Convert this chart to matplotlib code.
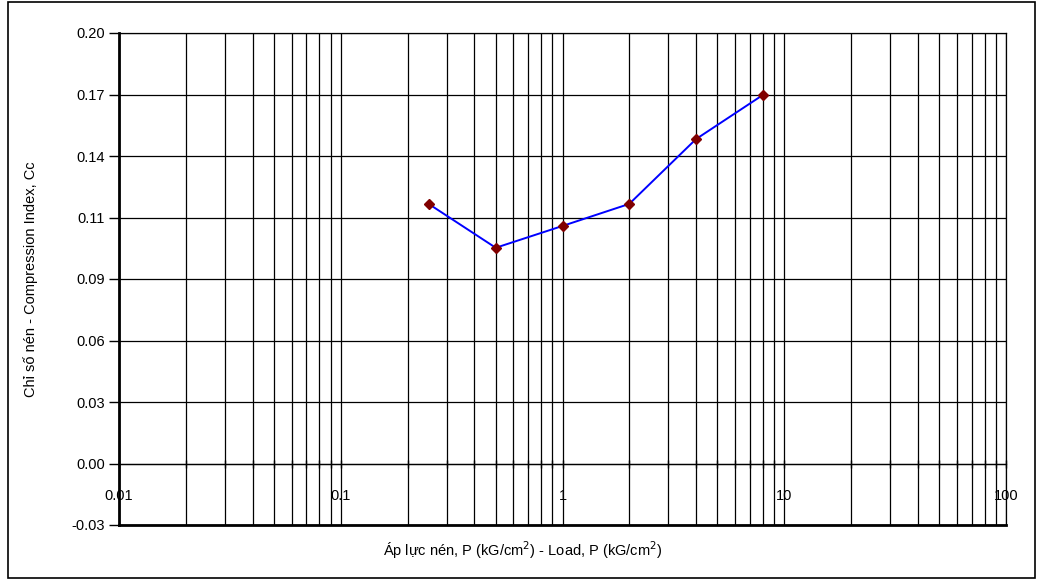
import numpy as np
import matplotlib
matplotlib.use("Agg")
import matplotlib.pyplot as plt
from matplotlib.ticker import FixedLocator, LogLocator, NullFormatter, FixedFormatter
from matplotlib.patches import Rectangle

plt.rcParams['font.family'] = ['Liberation Sans Narrow', 'Liberation Sans', 'DejaVu Sans']

# Data
load_p = [0.25, 0.5, 1, 2, 4, 8]
cc = [0.120, 0.0996, 0.1098, 0.1201, 0.1504, 0.171]

y_tick_labels = ['-0.03', '0.00', '0.03', '0.06', '0.09', '0.11', '0.14', '0.17', '0.20']
x_tick_values = [0.01, 0.1, 1, 10, 100]
x_tick_labels = ['0.01', '0.1', '1', '10', '100']

ylabel = "Chỉ số nén - Compression Index, Cc"
xlabel = "Áp lực nén, P (kG/cm$^2$) - Load, P (kG/cm$^2$)"

fig = plt.figure(figsize=(10.42, 5.81), dpi=100)
ax = fig.add_axes([119/1042, 1 - 525/581, (1006-119)/1042, (525-33)/581])

yticks = np.linspace(-0.03, 0.20, 9)

ax.set_xscale('log')
ax.set_xlim(0.01, 100)
ax.set_ylim(-0.03, 0.20)

# grid
ax.xaxis.set_major_locator(FixedLocator(x_tick_values))
ax.xaxis.set_major_formatter(FixedFormatter(x_tick_labels))
ax.xaxis.set_minor_locator(LogLocator(base=10, subs=np.arange(2, 10)))
ax.xaxis.set_minor_formatter(NullFormatter())
ax.yaxis.set_major_locator(FixedLocator(yticks))
ax.yaxis.set_major_formatter(FixedFormatter(y_tick_labels))

ax.grid(True, which='major', axis='both', color='black', lw=0.9)
ax.grid(True, which='minor', axis='x', color='black', lw=0.9)
ax.set_axisbelow(True)

# x-axis crossing at the "0.00" tick
ax.spines['bottom'].set_position(('data', yticks[1]))
ax.spines['bottom'].set_linewidth(0.9)
ax.tick_params(axis='x', which='both', direction='inout', length=6, width=1,
               pad=15, labelsize=10.5, colors='black')
ax.tick_params(axis='y', which='major', direction='out', length=7, width=1,
               labelsize=10.5, pad=3)
ax.spines['left'].set_linewidth(2)
ax.spines['top'].set_linewidth(0.9)
ax.spines['right'].set_linewidth(0.9)

# bottom border of plot area
ax.plot([0, 1], [0, 0], transform=ax.transAxes, color='black', lw=2, clip_on=False, zorder=5)

ax.plot(load_p, cc, color='#0000FF', lw=1.4, marker='D', markersize=5,
        markerfacecolor='#800000', markeredgecolor='#800000', zorder=6)

ax.set_ylabel(ylabel, fontsize=10.5)
fig.text(523/1042, 1 - 550/581, xlabel, ha='center', va='center', fontsize=10.5)
ax.yaxis.set_label_coords(-81/887, 0.5)

# outer chart border
fig.patches.append(Rectangle((8/1042, 1 - 578/581), (1035-8)/1042, (578-2)/581,
                             transform=fig.transFigure, fill=False, edgecolor='black', lw=1.2))

fig.savefig('out.png', dpi=100)
